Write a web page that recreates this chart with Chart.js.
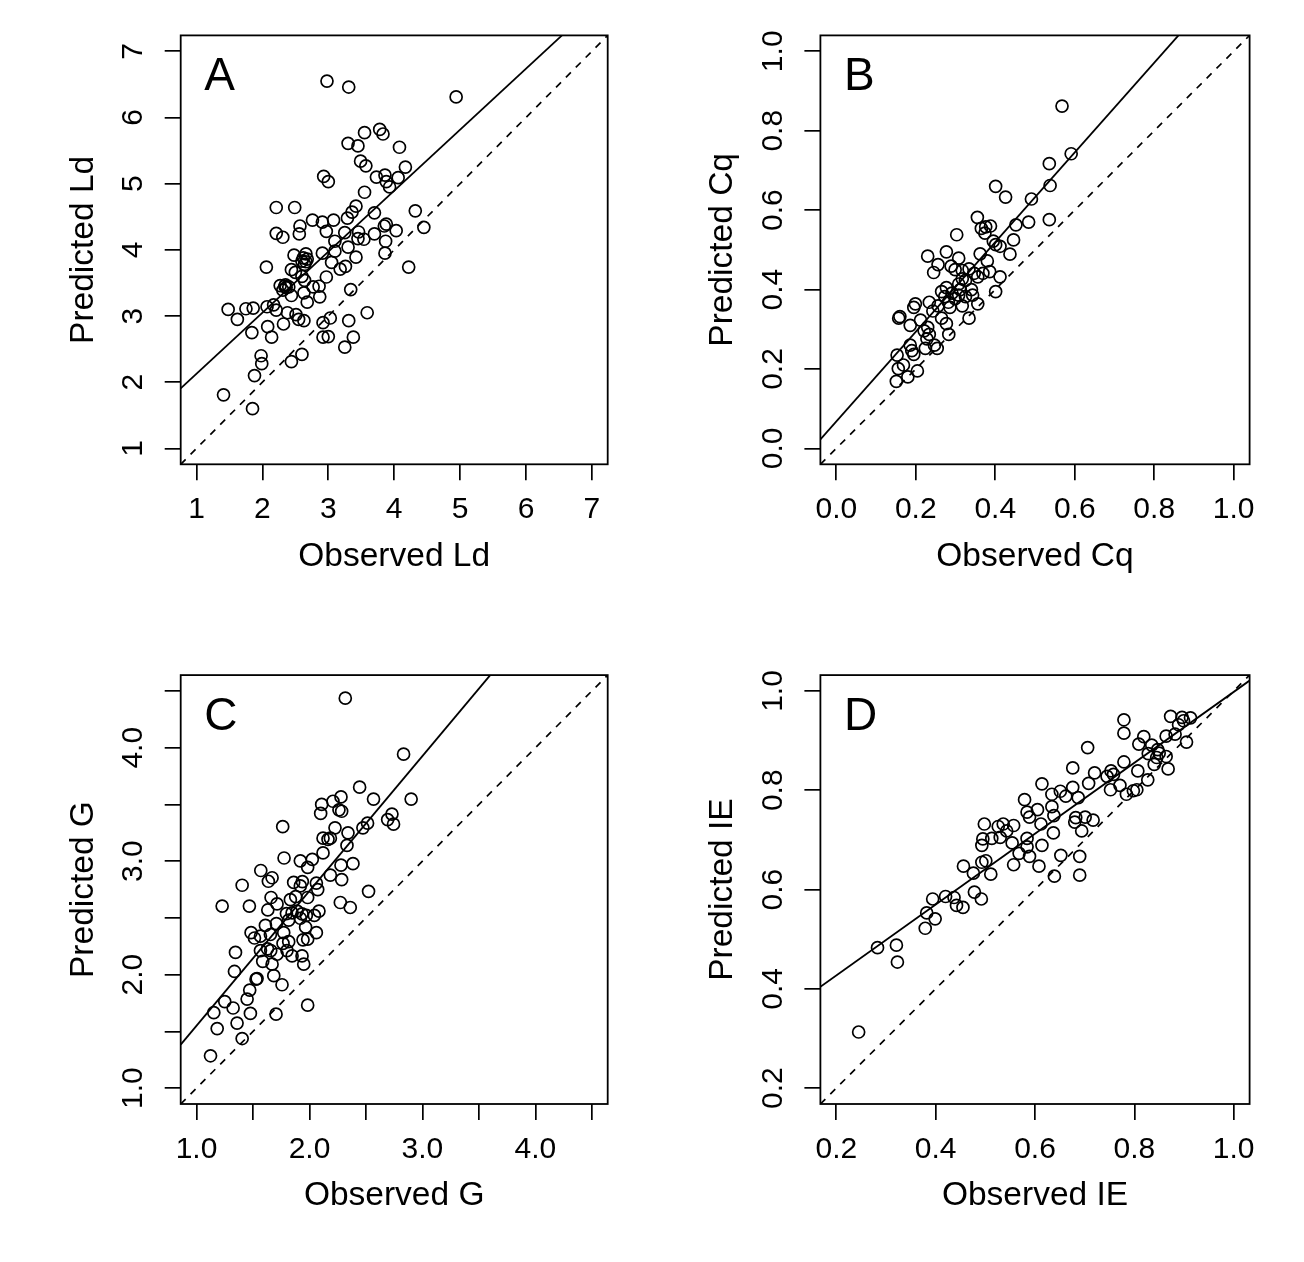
<!DOCTYPE html>
<html>
<head>
<meta charset="utf-8">
<script src="https://cdn.jsdelivr.net/npm/chart.js@4.4.1/dist/chart.umd.min.js"></script>
<style>
  body { margin: 0; background: #fff; }
  #wrap { position: relative; width: 1304px; height: 1262px; background: #fff; }
  #wrap canvas { position: absolute; }
</style>
</head>
<body>
<div id="wrap">
  <canvas id="panelA" width="652" height="631" style="left:0;top:0"></canvas>
  <canvas id="panelB" width="652" height="631" style="left:652px;top:0"></canvas>
  <canvas id="panelC" width="652" height="631" style="left:0;top:631px"></canvas>
  <canvas id="panelD" width="652" height="631" style="left:652px;top:631px"></canvas>
</div>
<script>
// ===== DATA =====
// A: Ld
const ldObs = [2.98,3.31,4.94,3.78,3.83,3.55,3.30,3.45,4.08,3.49,3.57,4.17,2.93,3.00,3.73,3.86,3.88,4.06,3.93,3.55,
  2.21,2.49,3.42,3.36,3.29,3.70,4.32,4.45,2.76,2.91,3.08,2.57,2.56,2.21,2.31,2.97,3.10,3.25,3.46,3.54,
  3.45,3.70,3.88,3.85,4.03,3.87,3.86,4.22,2.91,3.10,3.30,3.42,3.05,3.18,3.26,2.48,2.66,2.60,2.68,2.64,
  2.06,2.44,2.50,2.60,2.97,2.64,2.27,2.35,2.40,2.31,2.44,2.86,2.77,2.87,3.34,2.63,2.68,1.48,1.75,1.86,
  1.62,2.07,2.17,2.21,2.38,2.51,2.55,2.63,2.32,1.84,2.08,2.14,2.92,3.03,3.31,3.59,2.92,3.00,3.38,3.25,
  2.60,2.44,1.98,1.99,1.88,1.41,1.85,2.62,2.66,2.36,2.34];
const ldPred = [6.55,6.46,6.31,5.82,5.75,5.77,5.61,5.57,5.55,5.34,5.27,5.25,5.11,5.03,5.10,5.13,5.03,5.09,4.95,4.87,
  4.64,4.64,4.66,4.57,4.48,4.56,4.59,4.34,4.45,4.42,4.45,4.36,4.24,4.25,4.19,4.28,4.13,4.26,4.27,4.16,
  4.17,4.24,4.39,4.36,4.29,4.13,3.95,3.74,3.95,3.98,4.04,3.89,3.81,3.71,3.75,3.92,3.94,3.83,3.86,3.78,
  3.74,3.70,3.66,3.60,3.59,3.54,3.46,3.47,3.44,3.39,3.31,3.45,3.44,3.29,3.40,3.35,3.21,3.10,3.11,3.12,
  2.95,3.14,3.17,3.09,3.05,3.02,2.95,2.93,2.88,2.75,2.84,2.68,2.90,2.97,2.93,3.05,2.68,2.69,2.68,2.53,
  2.42,2.31,2.40,2.28,2.10,1.81,1.60,3.88,3.82,3.43,3.45];
const ldTicks = [1, 2, 3, 4, 5, 6, 7];
const ldLim = [0.76, 7.24];
const ldFitX = [0.76, 6.546];
const ldFitY = [1.908, 7.24];

// B: Cq
const cqObs = [0.568,0.591,0.536,0.538,0.536,0.401,0.426,0.491,0.484,0.452,0.446,0.437,0.355,0.303,0.365,0.376,0.388,0.374,0.395,0.401,
  0.412,0.362,0.380,0.277,0.308,0.230,0.256,0.245,0.289,0.299,0.317,0.334,0.347,0.369,0.386,0.412,0.401,0.356,0.317,0.308,
  0.265,0.277,0.291,0.308,0.325,0.343,0.356,0.317,0.286,0.256,0.234,0.243,0.334,0.265,0.277,0.283,0.199,0.195,0.160,0.157,
  0.186,0.212,0.230,0.221,0.234,0.228,0.247,0.254,0.224,0.186,0.190,0.195,0.153,0.169,0.156,0.204,0.180,0.151,0.273,0.299,
  0.282,0.312,0.325,0.340];
const cqPred = [0.862,0.742,0.717,0.662,0.576,0.660,0.633,0.628,0.570,0.563,0.525,0.489,0.582,0.538,0.554,0.558,0.560,0.542,0.522,0.513,
  0.509,0.490,0.472,0.495,0.479,0.484,0.463,0.443,0.459,0.450,0.448,0.452,0.441,0.441,0.445,0.432,0.395,0.432,0.427,0.414,
  0.395,0.405,0.391,0.386,0.382,0.386,0.364,0.359,0.355,0.359,0.368,0.346,0.328,0.328,0.314,0.287,0.364,0.355,0.332,0.328,
  0.310,0.323,0.305,0.296,0.287,0.276,0.260,0.252,0.252,0.260,0.246,0.237,0.235,0.210,0.201,0.195,0.180,0.169,0.382,0.377,
  0.368,0.400,0.423,0.400];
const cqTicks = [0, 0.2, 0.4, 0.6, 0.8, 1.0];
const cqLim = [-0.04, 1.04];
const cqFitX = [-0.04, 0.861];
const cqFitY = [0.023, 1.04];

// C: G
const gObs = [2.317,2.833,2.444,2.900,2.567,2.279,2.208,2.108,2.099,2.261,2.285,2.730,2.692,2.744,2.514,2.473,1.763,2.226,2.341,2.120,
  2.164,2.185,2.332,2.120,1.775,1.919,2.025,1.984,2.385,2.279,1.569,1.669,1.636,1.404,1.860,1.937,1.919,2.061,2.185,2.285,
  2.073,2.523,1.660,1.713,1.831,1.878,1.984,1.227,1.468,1.631,2.273,2.361,1.796,1.846,1.890,1.934,1.972,2.043,2.084,1.816,
  1.919,1.610,1.707,1.966,2.061,1.483,1.513,1.566,1.654,1.772,1.766,1.816,1.943,1.984,1.566,1.628,1.657,1.713,1.801,1.846,
  1.934,1.586,1.669,1.949,1.345,1.336,1.684,1.536,1.527,1.757,1.471,1.448,1.250,1.324,1.153,1.477,1.704,1.984,1.359,1.183,
  1.404,1.124];
const gPred = [4.437,3.943,3.652,3.547,3.547,3.566,3.528,3.500,3.421,3.453,3.440,3.415,3.367,3.326,3.335,3.294,3.304,3.294,3.250,3.203,
  3.193,3.203,3.139,3.073,3.028,3.003,3.016,2.946,2.978,2.965,2.918,2.854,2.823,2.788,2.813,2.820,2.782,2.807,2.877,2.838,
  2.750,2.734,2.680,2.623,2.661,2.687,2.680,2.604,2.604,2.570,2.636,2.592,2.538,2.544,2.560,2.535,2.522,2.522,2.560,2.481,
  2.497,2.434,2.449,2.418,2.370,2.370,2.323,2.339,2.354,2.370,2.275,2.291,2.307,2.313,2.212,2.228,2.212,2.180,2.212,2.165,
  2.165,2.117,2.092,2.092,2.196,2.028,1.991,1.965,1.960,1.911,1.864,1.785,1.763,1.706,1.665,1.658,1.652,1.731,1.573,1.525,
  1.437,1.285];
const gTicks = [1.0, 1.5, 2.0, 2.5, 3.0, 3.5, 4.0, 4.5];
const gLim = [0.86, 4.64];
const gFitX = [0.86, 3.60];
const gFitY = [1.383, 4.64];

// D: IE
const ieObs = [0.245,0.283,0.321,0.323,0.379,0.382,0.399,0.394,0.420,0.437,0.442,0.455,0.478,0.492,0.456,0.476,0.493,0.501,0.511,0.493,
  0.495,0.498,0.513,0.526,0.536,0.530,0.543,0.557,0.554,0.557,0.568,0.579,0.584,0.589,0.584,0.584,0.589,0.605,0.608,0.612,
  0.614,0.614,0.634,0.634,0.638,0.637,0.639,0.652,0.651,0.662,0.676,0.676,0.687,0.682,0.680,0.690,0.690,0.694,0.701,0.708,
  0.706,0.717,0.720,0.745,0.753,0.758,0.752,0.771,0.779,0.779,0.779,0.784,0.798,0.805,0.807,0.809,0.819,0.827,0.828,0.835,
  0.840,0.845,0.847,0.850,0.864,0.868,0.864,0.873,0.882,0.889,0.896,0.905,0.913,0.899];
const iePred = [0.313,0.483,0.488,0.454,0.522,0.553,0.541,0.581,0.586,0.584,0.568,0.564,0.595,0.581,0.647,0.633,0.655,0.658,0.631,0.689,
  0.702,0.732,0.703,0.727,0.732,0.705,0.718,0.729,0.694,0.650,0.673,0.781,0.756,0.746,0.703,0.686,0.667,0.761,0.647,0.732,
  0.689,0.813,0.792,0.767,0.749,0.714,0.627,0.669,0.798,0.788,0.806,0.845,0.785,0.745,0.736,0.667,0.629,0.718,0.746,0.814,
  0.886,0.740,0.835,0.828,0.839,0.832,0.801,0.810,0.942,0.915,0.857,0.792,0.799,0.801,0.839,0.893,0.908,0.821,0.874,0.891,
  0.852,0.866,0.882,0.875,0.868,0.843,0.909,0.949,0.913,0.932,0.947,0.897,0.946,0.940];
const ieTicks = [0.2, 0.4, 0.6, 0.8, 1.0];
const ieLim = [0.168, 1.032];
const ieFitX = [0.168, 1.032];
const ieFitY = [0.404, 1.021];

// ===== DEFAULTS =====
const FONT = '"Liberation Sans", Arial, Helvetica, sans-serif';
Chart.defaults.font.family = FONT;
Chart.defaults.color = '#000';

// box round the plot area + panel letter
const panelBox = {
  id: 'panelBox',
  afterDatasetsDraw(chart, args, opts) {
    const { ctx, chartArea: a } = chart;
    ctx.save();
    ctx.strokeStyle = '#000';
    ctx.lineWidth = 1.8;
    ctx.strokeRect(a.left, a.top, a.right - a.left, a.bottom - a.top);
    ctx.fillStyle = '#000';
    ctx.font = '46px ' + FONT;
    ctx.textBaseline = 'alphabetic';
    ctx.fillText(opts.letter, a.left + 23.5, a.top + 54.5);
    ctx.restore();
  }
};

function pairs(xs, ys) {
  return xs.map((x, i) => ({ x: x, y: ys[i] }));
}

const tickGrid = {
  display: true, drawOnChartArea: false, drawTicks: true,
  tickLength: 16, color: '#000', lineWidth: 1.7
};

function makePanel(id, p) {
  return new Chart(document.getElementById(id), {
    type: 'scatter',
    data: {
      datasets: [
        {
          data: pairs(p.obs, p.pred),
          pointRadius: 6,
          pointBorderWidth: 1.7,
          pointBorderColor: '#000',
          pointBackgroundColor: 'rgba(0,0,0,0)'
        },
        {
          data: pairs(p.fitX, p.fitY),
          showLine: true, pointRadius: 0,
          borderColor: '#000', borderWidth: 1.8
        },
        {
          data: pairs(p.lim, p.lim),
          showLine: true, pointRadius: 0,
          borderColor: '#000', borderWidth: 1.7, borderDash: [7, 7]
        }
      ]
    },
    options: {
      responsive: false,
      animation: false,
      devicePixelRatio: 1,
      events: [],
      layout: { padding: { top: p.padTop, right: p.padRight, left: 0, bottom: 0 } },
      plugins: {
        legend: { display: false },
        tooltip: { enabled: false },
        panelBox: { letter: p.letter }
      },
      scales: {
        x: {
          type: 'linear', min: p.lim[0], max: p.lim[1],
          afterBuildTicks: s => { s.ticks = p.ticks.map(v => ({ value: v })); },
          afterFit: s => { s.height = p.xHeight; s.paddingLeft = 0; s.paddingRight = 0; },
          grid: tickGrid,
          border: { display: false },
          ticks: {
            autoSkip: false, minRotation: 0, maxRotation: 0, padding: 11.7,
            color: '#000', font: { size: 30 }, callback: p.fmt
          },
          title: {
            display: true, text: p.xTitle, color: '#000', font: { size: 33.5 },
            padding: { top: 0, bottom: p.xHeight - 112.1 }
          }
        },
        y: {
          type: 'linear', min: p.lim[0], max: p.lim[1],
          afterBuildTicks: s => { s.ticks = p.ticks.map(v => ({ value: v })); },
          afterFit: s => { s.width = p.yWidth; s.paddingTop = 0; s.paddingBottom = 0; },
          grid: tickGrid,
          border: { display: false },
          ticks: {
            autoSkip: false, minRotation: 90, maxRotation: 90, crossAlign: 'center',
            padding: p.yTickPad, color: '#000', font: { size: 30 }, callback: p.fmt
          },
          title: {
            display: true, text: p.yTitle, color: '#000', font: { size: 33.5 },
            padding: { top: p.yWidth - 117.5, bottom: 0 }
          }
        }
      }
    },
    plugins: [panelBox]
  });
}

const oneDec = v => v.toFixed(1);

// ===== PANELS =====
makePanel('panelA', {
  obs: ldObs, pred: ldPred, ticks: ldTicks, lim: ldLim, fitX: ldFitX, fitY: ldFitY,
  letter: 'A', xTitle: 'Observed Ld', yTitle: 'Predicted Ld', fmt: v => String(v),
  padTop: 35.4, padRight: 44.3, yWidth: 180.7, xHeight: 166.7, yTickPad: 23
});
makePanel('panelB', {
  obs: cqObs, pred: cqPred, ticks: cqTicks, lim: cqLim, fitX: cqFitX, fitY: cqFitY,
  letter: 'B', xTitle: 'Observed Cq', yTitle: 'Predicted Cq', fmt: oneDec,
  padTop: 35.4, padRight: 54.4, yWidth: 168.4, xHeight: 166.7, yTickPad: 9.9
});
makePanel('panelC', {
  obs: gObs, pred: gPred, ticks: gTicks, lim: gLim, fitX: gFitX, fitY: gFitY,
  letter: 'C', xTitle: 'Observed G', yTitle: 'Predicted G',
  fmt: v => Number.isInteger(v) ? v.toFixed(1) : '',
  padTop: 44.1, padRight: 44.3, yWidth: 180.7, xHeight: 158, yTickPad: 9.9
});
makePanel('panelD', {
  obs: ieObs, pred: iePred, ticks: ieTicks, lim: ieLim, fitX: ieFitX, fitY: ieFitY,
  letter: 'D', xTitle: 'Observed IE', yTitle: 'Predicted IE', fmt: oneDec,
  padTop: 44.1, padRight: 54.4, yWidth: 168.4, xHeight: 158, yTickPad: 9.9
});
</script>
</body>
</html>
